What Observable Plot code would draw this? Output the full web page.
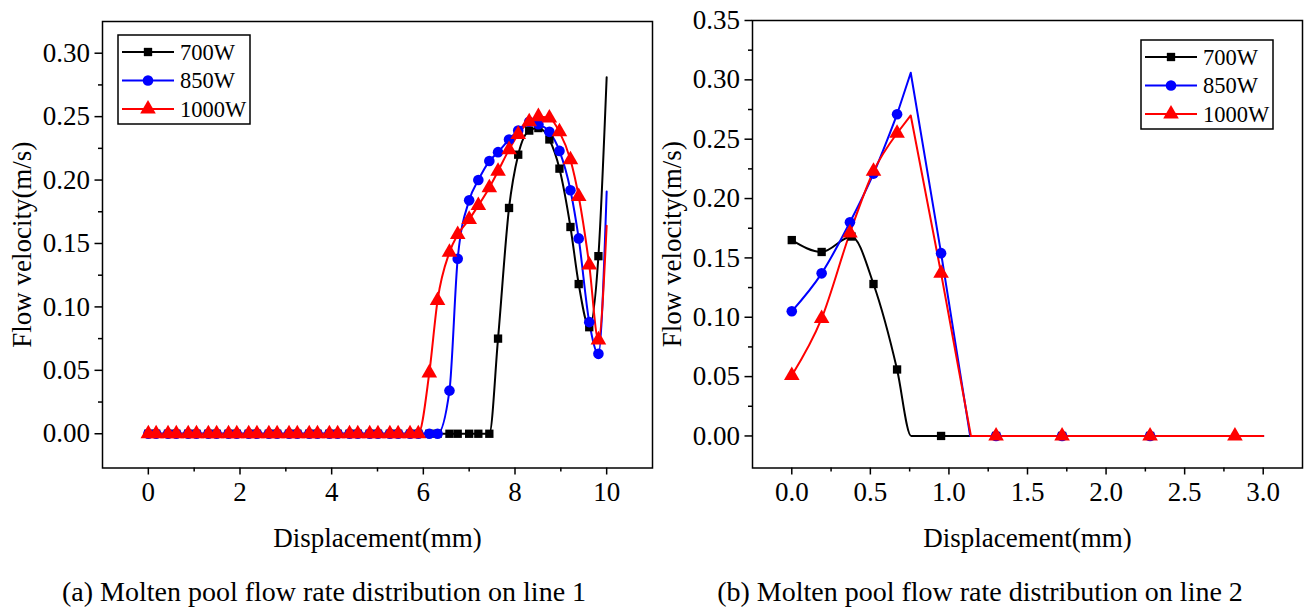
<!DOCTYPE html>
<html><head><meta charset="utf-8">
<script src="https://cdn.jsdelivr.net/npm/d3@7"></script>
<script src="https://cdn.jsdelivr.net/npm/@observablehq/plot@0.6"></script>
<style>
body{margin:0;background:#fff;font-family:"Liberation Serif","Times New Roman",serif;}
#wrap{position:relative;width:1305px;height:612px;overflow:hidden;background:#fff;}
.plot{position:absolute;top:0;}
.plot text{font-family:"Liberation Serif","Times New Roman",serif;}
.caption{position:absolute;top:576px;font-size:28px;line-height:32px;white-space:nowrap;transform:translateX(-50%);}
.legend{position:absolute;}
</style></head><body><div id="wrap"></div>
<script>
// ---------- Series meta ----------
const seriesNames = ["700W", "850W", "1000W"];
const seriesColors = ["#000000", "#0000ff", "#ff0000"];
const seriesSymbols = ["square", "circle", "triangle"];
const symbolRadius = [4.7, 5.3, 5.8];
const FONT = "'Liberation Serif','Times New Roman',serif";

// ---------- (a) line 1 ----------
const lineA_x = [0, 0.17, 0.43, 0.61, 0.87, 1.05, 1.31, 1.49, 1.75, 1.93, 2.19, 2.37, 2.63, 2.81,
  3.07, 3.25, 3.51, 3.69, 3.95, 4.13, 4.39, 4.57, 4.83, 5.01, 5.27, 5.45, 5.71, 5.89,
  6.13, 6.31, 6.57, 6.75, 7.0, 7.2, 7.44, 7.63, 7.87, 8.07, 8.31, 8.51, 8.75, 8.97, 9.21, 9.39, 9.62, 9.82, 10.0];
const lineA_700 = [0, 0, 0, 0, 0, 0, 0, 0, 0, 0, 0, 0, 0, 0,
  0, 0, 0, 0, 0, 0, 0, 0, 0, 0, 0, 0, 0, 0,
  0, 0, 0, 0, 0, 0, 0, 0.075, 0.178, 0.220, 0.239, 0.241, 0.232, 0.209, 0.163, 0.118, 0.084, 0.140, 0.281];
const lineA_850 = [0, 0, 0, 0, 0, 0, 0, 0, 0, 0, 0, 0, 0, 0,
  0, 0, 0, 0, 0, 0, 0, 0, 0, 0, 0, 0, 0, 0,
  0, 0, 0.034, 0.138, 0.184, 0.200, 0.215, 0.222, 0.232, 0.239, 0.246, 0.244, 0.238, 0.223, 0.192, 0.154, 0.088, 0.063, 0.191];
const lineA_1000 = [0, 0, 0, 0, 0, 0, 0, 0, 0, 0, 0, 0, 0, 0,
  0, 0, 0, 0, 0, 0, 0, 0, 0, 0, 0, 0, 0, 0,
  0.048, 0.105, 0.143, 0.157, 0.169, 0.180, 0.194, 0.207, 0.224, 0.236, 0.246, 0.250, 0.249, 0.238, 0.216, 0.187, 0.133, 0.074, 0.164];
// symbol shown at every point except the line end
const lineA_marked = [1, 1, 1, 1, 1, 1, 1, 1, 1, 1, 1, 1, 1, 1,
  1, 1, 1, 1, 1, 1, 1, 1, 1, 1, 1, 1, 1, 1,
  1, 1, 1, 1, 1, 1, 1, 1, 1, 1, 1, 1, 1, 1, 1, 1, 1, 1, 0];

// ---------- (b) line 2 ----------
const lineB_700_x = [0, 0.19, 0.38, 0.52, 0.67, 0.76, 0.95, 1.30, 1.72, 2.28, 3.0];
const lineB_700_y = [0.165, 0.155, 0.168, 0.128, 0.056, 0, 0, 0, 0, 0, 0];
const lineB_700_m = [1, 1, 1, 1, 1, 0, 1, 1, 1, 1, 0];
const lineB_850_x = [0, 0.19, 0.37, 0.52, 0.67, 0.757, 0.95, 1.135, 1.30, 1.72, 2.28, 3.0];
const lineB_850_y = [0.105, 0.137, 0.180, 0.221, 0.271, 0.306, 0.154, 0, 0, 0, 0, 0];
const lineB_850_m = [1, 1, 1, 1, 1, 0, 1, 0, 1, 1, 1, 0];
const lineB_1000_x = [0, 0.19, 0.37, 0.52, 0.67, 0.757, 0.95, 1.14, 1.30, 1.72, 2.28, 2.82, 3.0];
const lineB_1000_y = [0.051, 0.099, 0.171, 0.223, 0.255, 0.270, 0.137, 0, 0, 0, 0, 0, 0];
const lineB_1000_m = [1, 1, 1, 1, 1, 0, 1, 0, 1, 1, 1, 1, 0];
// where the smooth (spline) part ends and straight segments begin, per series
const lineB_smoothEnd = [3.0, 0.67, 0.67];

// ---------- Axes ticks / labels ----------
const aXMajor = [0, 2, 4, 6, 8, 10];
const aXMinor = [1, 3, 5, 7, 9];
const aYMajor = [0, 0.05, 0.10, 0.15, 0.20, 0.25, 0.30];
const aYMinor = [0.025, 0.075, 0.125, 0.175, 0.225, 0.275];
const bXMajor = [0, 0.5, 1.0, 1.5, 2.0, 2.5, 3.0];
const bXMinor = [0.25, 0.75, 1.25, 1.75, 2.25, 2.75];
const bYMajor = [0, 0.05, 0.10, 0.15, 0.20, 0.25, 0.30, 0.35];
const bYMinor = [0.025, 0.075, 0.125, 0.175, 0.225, 0.275, 0.325];
const xLabel = "Displacement(mm)";
const yLabel = "Flow velocity(m/s)";
const captions = ["(a) Molten pool flow rate distribution on line 1", "(b) Molten pool flow rate distribution on line 2"];

function toRows(xs, ys, ms) {
  return xs.map((x, i) => ({x, y: ys[i], m: ms[i]}));
}

const seriesA = [
  toRows(lineA_x, lineA_700, lineA_marked),
  toRows(lineA_x, lineA_850, lineA_marked),
  toRows(lineA_x, lineA_1000, lineA_marked)
];
const seriesB = [
  toRows(lineB_700_x, lineB_700_y, lineB_700_m),
  toRows(lineB_850_x, lineB_850_y, lineB_850_m),
  toRows(lineB_1000_x, lineB_1000_y, lineB_1000_m)
];

function makeChart(o) {
  const marks = [];
  const tf = {fontFamily: FONT, fontSize: 27};
  marks.push(Plot.axisX(o.xMinor, {tickSize: 4, tickFormat: () => "", label: null, strokeWidth: 1.5}));
  marks.push(Plot.axisY(o.yMinor, {tickSize: 4, tickFormat: () => "", label: null, strokeWidth: 1.5}));
  marks.push(Plot.axisX(o.xMajor, {tickSize: 7, tickPadding: 7, tickFormat: o.xFmt, label: null, strokeWidth: 1.5, ...tf}));
  marks.push(Plot.axisY(o.yMajor, {tickSize: 7.5, tickPadding: 5, tickFormat: d3.format(".2f"), label: null, strokeWidth: 1.5, ...tf}));
  o.series.forEach((rows, i) => {
    const cut = o.smoothEnd ? o.smoothEnd[i] : Infinity;
    marks.push(Plot.line(rows.filter(d => d.x <= cut), {x: "x", y: "y", stroke: seriesColors[i], strokeWidth: 2, curve: "monotone-x"}));
    const rest = rows.filter(d => d.x >= cut);
    if (rest.length > 1) marks.push(Plot.line(rest, {x: "x", y: "y", stroke: seriesColors[i], strokeWidth: 2, curve: "linear"}));
  });
  o.series.forEach((rows, i) => {
    marks.push(Plot.dot(rows.filter(d => d.m), {x: "x", y: "y", symbol: seriesSymbols[i], r: symbolRadius[i], fill: seriesColors[i], stroke: "none"}));
  });
  marks.push(Plot.frame({stroke: "black", strokeWidth: 1.5}));
  marks.push(Plot.text([yLabel], {text: d => d, frameAnchor: "left", dx: -80, rotate: -90, fontSize: 27, fontFamily: FONT, textAnchor: "middle", lineAnchor: "middle"}));
  marks.push(Plot.text([xLabel], {text: d => d, frameAnchor: "bottom", dy: 70, fontSize: 27, fontFamily: FONT, textAnchor: "middle", lineAnchor: "middle"}));
  return Plot.plot({
    width: o.width, height: 560,
    marginLeft: o.marginLeft, marginRight: o.marginRight, marginTop: o.marginTop, marginBottom: 560 - 467.5,
    x: {domain: o.xDomain},
    y: {domain: o.yDomain},
    style: {fontFamily: FONT, fontSize: "27px", color: "black", background: "transparent", overflow: "visible"},
    marks
  });
}

const wrap = document.getElementById("wrap");

const chartA = makeChart({
  width: 653, marginLeft: 102, marginRight: 1, marginTop: 21,
  xDomain: [-1, 11], yDomain: [-0.027, 0.325],
  xMajor: aXMajor, xMinor: aXMinor, yMajor: aYMajor, yMinor: aYMinor,
  xFmt: d3.format("d"), series: seriesA
});
chartA.classList.add("plot");
chartA.style.left = "0px";
wrap.appendChild(chartA);

const chartB = makeChart({
  width: 653, marginLeft: 100, marginRight: 3, marginTop: 20,
  xDomain: [-0.25, 3.25], yDomain: [-0.027, 0.35],
  xMajor: bXMajor, xMinor: bXMinor, yMajor: bYMajor, yMinor: bYMinor,
  xFmt: d3.format(".1f"), series: seriesB, smoothEnd: lineB_smoothEnd
});
chartB.classList.add("plot");
chartB.style.left = "652px";
wrap.appendChild(chartB);

// ---------- Legends ----------
function makeLegend(left, top) {
  const w = 132, h = 89;
  const svg = d3.create("svg").attr("width", w + 2).attr("height", h + 2)
    .attr("class", "legend").style("left", (left - 1) + "px").style("top", (top - 1) + "px");
  svg.append("rect").attr("x", 1).attr("y", 1).attr("width", w).attr("height", h)
    .attr("fill", "white").attr("stroke", "black").attr("stroke-width", 1.5);
  const rowY = [17, 45.5, 74];
  const symMap = {square: d3.symbolSquare, circle: d3.symbolCircle, triangle: d3.symbolTriangle};
  seriesNames.forEach((name, i) => {
    const g = svg.append("g").attr("transform", `translate(1,${1 + rowY[i]})`);
    g.append("line").attr("x1", 4).attr("x2", 56).attr("y1", 0).attr("y2", 0)
      .attr("stroke", seriesColors[i]).attr("stroke-width", 2);
    g.append("path").attr("transform", "translate(30,0)")
      .attr("d", d3.symbol(symMap[seriesSymbols[i]], Math.PI * symbolRadius[i] ** 2)())
      .attr("fill", seriesColors[i]);
    g.append("text").attr("x", 62).attr("y", 0).attr("dy", "0.35em")
      .attr("font-family", FONT).attr("font-size", 22.5)
      .text(name);
  });
  wrap.appendChild(svg.node());
}
makeLegend(118, 35);
makeLegend(1141, 40);

// ---------- Captions ----------
[[324, captions[0]], [980, captions[1]]].forEach(([cx, t]) => {
  const d = document.createElement("div");
  d.className = "caption";
  d.style.left = cx + "px";
  d.textContent = t;
  wrap.appendChild(d);
});
</script>
</body></html>
